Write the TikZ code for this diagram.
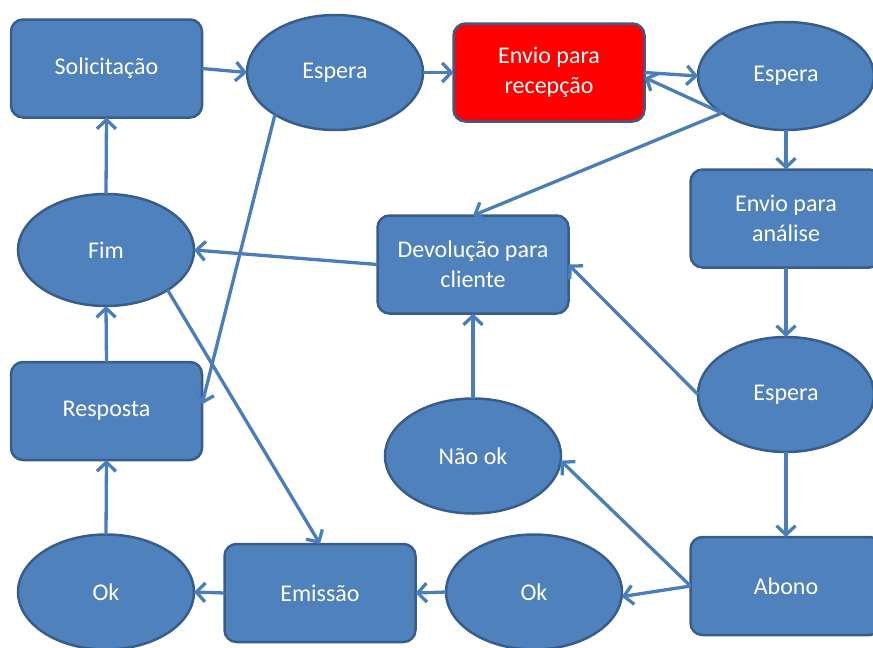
\documentclass[tikz,border=0pt]{standalone}
\usepackage{fontspec}
\setmainfont{Carlito}
\usetikzlibrary{shapes.geometric,arrows.meta}

\definecolor{boxfill}{HTML}{4F81BD}
\definecolor{boxline}{HTML}{385D8A}
\definecolor{linkcol}{HTML}{4A7EBB}
\definecolor{hotfill}{HTML}{FF0000}

\tikzset{
  base/.style={draw=boxline, line width=2.5pt, fill=boxfill, text=white,
    font=\fontsize{24}{30}\selectfont, align=center, inner sep=2pt, outer sep=0pt},
  stepbox/.style={base, rectangle, rounded corners=12pt,
    minimum width=191pt, minimum height=98pt},
  waitoval/.style={base, ellipse, minimum width=176pt, minimum height=115pt},
  hotbox/.style={stepbox, fill=hotfill},
  link/.style={draw=linkcol, line width=3.3pt,
    -{Straight Barb[length=9pt,width=19pt]}},
}

\begin{document}
\begin{tikzpicture}[x=1pt,y=-1pt]
\useasboundingbox (0,0) rectangle (873,648);

% process steps and waiting states
\node[stepbox]  (sol)  at (106.5,68.5) {Solicitação};
\node[waitoval] (esp1) at (335,72.5)   {Espera};
\node[hotbox]   (rec)  at (549,72.5)   {Envio para\\recepção};
\node[waitoval, minimum height=108pt] (esp2) at (786,76) {Espera};
\node[stepbox]  (ana)  at (786,218.5)  {Envio para\\análise};
\node[waitoval] (esp3) at (786,394.5)  {Espera};
\node[stepbox]  (abo)  at (786,586)    {Abono};
\node[waitoval] (okr)  at (534,592)    {Ok};
\node[stepbox]  (emi)  at (320,593)    {Emissão};
\node[waitoval] (okl)  at (106,592)    {Ok};
\node[stepbox]  (res)  at (106.5,411)  {Resposta};
\node[waitoval, minimum height=112pt] (fim) at (106,250) {Fim};
\node[stepbox]  (dev)  at (473,264.5)  {Devolução para\\cliente};
\node[waitoval] (nok)  at (473,456)    {Não ok};

% connectors
\draw[link] (sol.east) -- (esp1.west);
\draw[link] (esp1.east) -- (rec.west);
\draw[link] (rec.east) -- (esp2.west);
\draw[link] (esp2.210) -- (rec.-3);
\draw[link] (esp2.210) -- (dev.north);
\draw[link] (esp2.south) -- (ana.north);
\draw[link] (ana.south) -- (esp3.north);
\draw[link] (esp3.west) -- (dev.east);
\draw[link] (esp3.south) -- (abo.north);
\draw[link] (abo.west) -- (okr.-3);
\draw[link] (abo.west) -- (nok.-3);
\draw[link] (nok.north) -- (dev.south);
\draw[link] (dev.west) -- (fim.east);
\draw[link] (okr.west) -- (emi.east);
\draw[link] (emi.west) -- (okl.east);
\draw[link] (okl.north) -- (res.south);
\draw[link] (res.north) -- (fim.south);
\draw[link] (fim.north) -- (sol.south);
\draw[link] (fim.-33) -- (emi.north);
\draw[link] (esp1.215) -- (res.4);
\end{tikzpicture}
\end{document}
